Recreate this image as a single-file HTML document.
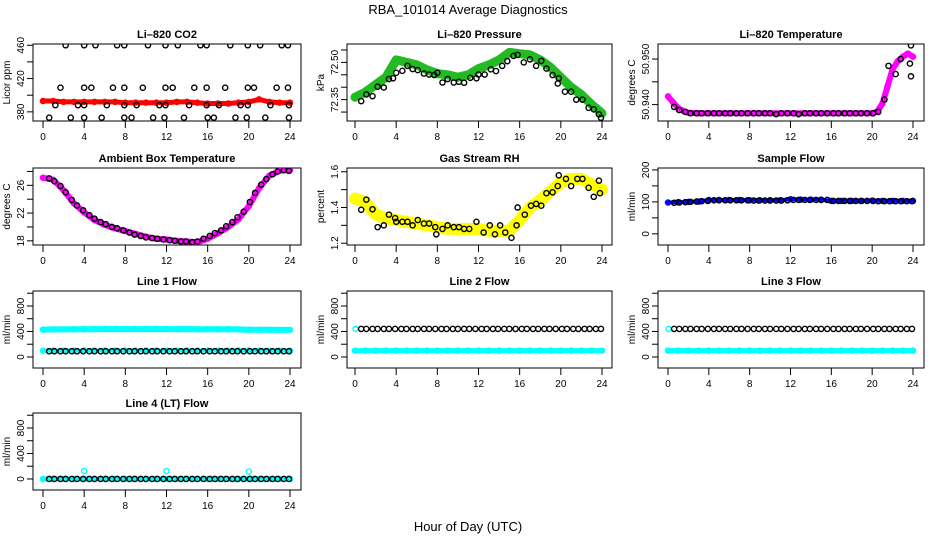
<!DOCTYPE html>
<html><head><meta charset="utf-8"><style>
html,body{margin:0;padding:0;background:#fff}
svg{display:block;font-family:"Liberation Sans",Arial,sans-serif}
</style></head><body>
<svg id="c" width="936" height="540" viewBox="0 0 936 540">
<text x="468" y="14" text-anchor="middle" font-size="13">RBA_101014  Average Diagnostics</text>
<text x="468" y="531" text-anchor="middle" font-size="13">Hour of Day (UTC)</text>
</svg>
<script>
// ---- data ----
const hoursBlack = [0.6,1.1,1.7,2.2,2.8,3.3,3.9,4.5,5.0,5.6,6.1,6.7,7.2,7.8,8.4,8.9,9.5,10.0,10.6,11.1,11.7,12.3,12.8,13.4,13.9,14.5,15.0,15.6,16.2,16.7,17.3,17.8,18.4,18.9,19.5,20.1,20.6,21.2,21.7,22.3,22.8,23.4,23.9];
const hoursHourly = [0,1,2,3,4,5,6,7,8,9,10,11,12,13,14,15,16,17,18,19,20,21,22,23,24];

const co2BlackH = [2.2,4.0,5.1,7.2,7.9,10.2,11.9,13.1,15.3,15.9,18.2,19.9,21.1,23.2,23.8, 1.7,4.0,4.7,6.8,7.9,9.7,11.9,12.6,14.7,15.9,17.7,19.9,20.5,22.7,23.8, 1.2,3.4,4.0,6.2,7.9,9.1,11.3,11.9,14.2,15.9,17.1,19.2,19.9,22.1,23.9, 0.6,2.7,4.0,5.7,7.9,8.6,10.7,11.8,13.7,16.0,16.6,18.7,19.8,21.6,23.9];
const co2BlackV = [460,460,460,460,460,460,460,460,460,460,460,460,460,460,460, 409,409,409,409,409,409,409,409,409,409,409,409,409,409,409, 388,388,388,388,388,388,388,388,388,388,388,388,388,388,388, 373,373,373,373,373,373,373,373,373,373,373,373,373,373,373];
const co2Red = [393,393,392,392,392,392,392,392,391,391,391,391,391,392,392,391,390,390,390,391,392,395,392,391,391];

const presBlackH = [0.6,1.1,1.7,2.2,2.8,3.3,3.7,4.0,4.6,5.1,5.6,6.1,6.7,7.2,7.7,8.0,8.5,9.0,9.6,10.1,10.6,11.2,11.8,12.0,12.6,13.2,13.7,14.3,14.8,15.4,15.8,16.4,17.0,17.6,18.1,18.6,19.2,19.7,19.8,20.4,21.0,21.5,22.1,22.7,23.2,23.7,23.9];
const presBlackV = [72.344,72.371,72.364,72.402,72.399,72.433,72.436,72.458,72.466,72.486,72.473,72.469,72.455,72.451,72.449,72.458,72.419,72.433,72.419,72.422,72.418,72.438,72.436,72.451,72.451,72.472,72.465,72.486,72.505,72.526,72.530,72.500,72.512,72.486,72.506,72.475,72.449,72.415,72.436,72.382,72.382,72.350,72.350,72.317,72.311,72.291,72.277];
const presGreen = [72.36,72.38,72.41,72.44,72.51,72.50,72.49,72.47,72.455,72.45,72.44,72.45,72.475,72.49,72.51,72.54,72.535,72.53,72.51,72.48,72.44,72.40,72.37,72.33,72.295];

const tempBlackH = [0.6,1.1,1.7,2.2,2.8,3.3,3.9,4.5,5.0,5.6,6.1,6.7,7.2,7.8,8.4,8.9,9.5,10.0,10.6,11.1,11.7,12.3,12.8,13.4,13.9,14.5,15.0,15.6,16.2,16.7,17.3,17.8,18.4,18.9,19.5,20.1,20.6,21.2,21.6,22.3,22.8,23.7,23.8,23.8];
const tempBlackV = [50.9395,50.9388,50.9384,50.9381,50.9381,50.9381,50.9381,50.9381,50.9381,50.9381,50.9381,50.9381,50.9381,50.9381,50.9381,50.9381,50.9381,50.9381,50.9379,50.9381,50.9381,50.9381,50.9379,50.9381,50.9381,50.9381,50.9381,50.9381,50.9381,50.9381,50.9381,50.9381,50.9381,50.9381,50.9381,50.9381,50.9384,50.9411,50.9485,50.9467,50.9500,50.9490,50.9530,50.9462];
const tempMagH = [0,0.5,1,1.5,2,3,6,10,14,18,20,20.5,21,21.5,22,22.5,23,23.5,24];
const tempMagV = [50.9418,50.9405,50.9392,50.9386,50.9382,50.9381,50.9381,50.9381,50.9381,50.9381,50.9381,50.9385,50.9402,50.9440,50.9478,50.9495,50.9505,50.9512,50.9505];

const ambBlackV = [27.0,26.6,25.9,25.0,23.9,23.1,22.4,21.7,21.2,20.7,20.4,20.0,19.8,19.5,19.2,18.9,18.7,18.5,18.4,18.3,18.2,18.1,18.0,17.9,17.9,17.8,17.9,18.3,18.7,19.1,19.5,20.1,20.7,21.4,22.2,23.6,24.9,26.1,26.9,27.6,28.0,28.2,28.1];
const ambMag = [27.1,26.8,25.3,23.4,22.1,21.0,20.3,19.8,19.4,19.0,18.6,18.3,18.2,18.0,17.9,17.8,18.3,19.1,20.0,21.1,23.0,25.6,27.4,28.1,28.2];

const rhBlackH = [0.6,1.1,1.7,2.2,2.8,3.3,3.9,4.0,4.6,5.1,5.6,6.1,6.7,7.2,7.8,7.9,8.5,9.0,9.6,10.1,10.6,11.1,11.8,12.5,13.1,13.6,14.1,14.6,15.2,15.7,15.8,16.5,17.1,17.6,18.1,18.6,19.2,19.7,19.8,20.5,21.0,21.6,22.1,22.7,23.2,23.7,23.8];
const rhBlackV = [1.387,1.444,1.39,1.29,1.30,1.36,1.34,1.32,1.32,1.32,1.30,1.33,1.31,1.31,1.29,1.25,1.28,1.30,1.29,1.29,1.28,1.28,1.32,1.26,1.30,1.25,1.30,1.26,1.23,1.30,1.40,1.36,1.41,1.42,1.41,1.48,1.485,1.52,1.58,1.56,1.52,1.56,1.56,1.51,1.46,1.55,1.48];
const rhYellow = [1.45,1.43,1.36,1.34,1.33,1.32,1.31,1.30,1.29,1.28,1.28,1.28,1.28,1.27,1.27,1.27,1.33,1.40,1.44,1.49,1.54,1.56,1.56,1.53,1.50];

const sampleBlackV = [97,98,99,100,101,102,103,105,105,105,105,105,105,105,104,104,104,104,104,104,105,106,106,106,106,106,106,106,103,103,103,103,103,103,103,103,102,102,102,102,102,102,102];
const sampleBlue = [98,99,100,101,106,106,106,106,105,105,105,105,108,107,107,107,103,103,103,103,104,103,103,103,103];

const l1CyanHigh = [430,432,433,434,436,437,438,438,438,438,438,438,438,437,437,436,436,435,434,432,428,427,426,425,425];
const l1CyanLow = [100,100,100,100,102,102,102,102,102,102,102,102,102,102,102,102,102,102,102,102,102,102,100,100,100];
const l1Black = 90;
const l2CyanLow = [100,100,100,100,100,100,100,100,100,100,100,100,100,100,100,100,100,100,100,100,100,100,100,100,100];
const l2Black = 440;
const l3CyanLow = [100,100,100,100,100,100,100,100,100,100,100,100,100,100,100,100,100,100,100,100,100,100,100,100,100];
const l3Black = 440;
const l4Cyan = [0,0,0,0,0,0,0,0,0,0,0,0,0,0,0,0,0,0,0,0,0,0,0,0,0];
const l4SpikeH = [4,12,20];
const l4SpikeV = [125,125,115];
const l4Black = 0;

const xTicks = [0,4,8,12,16,20,24];

// ---- layout ----
const NS = 'http://www.w3.org/2000/svg';
const svg = document.getElementById('c');
const cols = [{bl:33,br:301,t0:43,t24:290},{bl:347,br:612,t0:355,t24:602},{bl:658,br:924,t0:668,t24:913}];
const rows = [44,168,291,413];
const PH = 77;

function mk(tag, attrs, parent){const e=document.createElementNS(NS,tag);for(const k in attrs)e.setAttribute(k,attrs[k]);(parent||svg).appendChild(e);return e;}

function panel(col,row,title,ylabel,ylim,yticks,ylabs,name){
  const c=cols[col], top=rows[row], bot=top+PH;
  const g=mk('g',{});
  
  
  const sx=h=>c.t0+h/24*(c.t24-c.t0);
  const sy=v=>bot-(v-ylim[0])/(ylim[1]-ylim[0])*PH;
  const box=mk('rect',{x:c.bl,y:top,width:c.br-c.bl,height:PH,fill:'none',stroke:'#000','stroke-width':1},g);
  
  
  const t=mk('text',{x:(c.bl+c.br)/2,y:top-6,'text-anchor':'middle','font-size':11,'font-weight':'bold'},g);
  t.textContent=title;
  
  
  const yl=mk('text',{x:0,y:0,'text-anchor':'middle','font-size':10,transform:`translate(${c.bl-23},${top+PH/2}) rotate(-90)`},g);
  yl.textContent=ylabel;
  
  
  mk('line',{x1:sx(0),x2:sx(24),y1:bot,y2:bot,stroke:'#000'},g);
  xTicks.forEach(h=>{
    mk('line',{x1:sx(h),x2:sx(h),y1:bot,y2:bot+7,stroke:'#000'},g);
    const tl=mk('text',{x:sx(h),y:bot+19,'text-anchor':'middle','font-size':10},g);
    tl.textContent=h;
    
    
  });
  mk('line',{x1:c.bl,x2:c.bl,y1:sy(yticks[0]),y2:sy(yticks[yticks.length-1]),stroke:'#000'},g);
  yticks.forEach(v=>mk('line',{x1:c.bl-6,x2:c.bl,y1:sy(v),y2:sy(v),stroke:'#000'},g));
  ylabs.forEach(([v,s])=>{
    const tl=mk('text',{x:0,y:0,'text-anchor':'middle','font-size':10,transform:`translate(${c.bl-9},${sy(v)}) rotate(-90)`},g);
    tl.textContent=s;
    
    
  });
  const clipId='cl'+name;
  const cp=mk('clipPath',{id:clipId},g);
  mk('rect',{x:c.bl,y:top,width:c.br-c.bl,height:PH},cp);
  const pg=mk('g',{'clip-path':`url(#${clipId})`},g);
  return {sx,sy,g:pg};
}
function band(p,H,V,color,w,name){
  const pts=H.map((h,i)=>p.sx(h).toFixed(1)+','+p.sy(V[i]).toFixed(1)).join(' ');
  const pl=mk('polyline',{points:pts,fill:'none',stroke:color,'stroke-width':w,'stroke-linejoin':'round','stroke-linecap':'round'},p.g);
  
  
  H.forEach((h,i)=>{
    const ci=mk('circle',{cx:p.sx(h),cy:p.sy(V[i]),r:2.6,fill:'none',stroke:color,'stroke-width':1.3},p.g);
    
    
  });
}
function pts(p,H,V,color,name){
  H.forEach((h,i)=>{
    const ci=mk('circle',{cx:p.sx(h),cy:p.sy(V[i]),r:2.6,fill:'none',stroke:color,'stroke-width':1.4},p.g);
    
    
  });
}
const flowTicks=[0,200,400,600,800,1000], flowLabs=[[0,'0'],[400,'400'],[800,'800']], flowLim=[-173,1035];
const constArr=(v)=>hoursBlack.map(()=>v);

let p=panel(0,0,'Li\u2013820 CO2','Licor ppm',[369,461.5],[380,400,420,440,460],[[380,'380'],[420,'420'],[460,'460']],'co2');
band(p,hoursHourly,co2Red,'#ff0000',5,'co2-red-series');
pts(p,co2BlackH,co2BlackV,'#000','co2-black-point');

p=panel(1,0,'Li\u2013820 Pressure','kPa',[72.264,72.574],[72.30,72.35,72.40,72.45,72.50,72.55],[[72.50,'72.50'],[72.35,'72.35']],'pressure');
band(p,hoursHourly,presGreen,'#22bb22',9,'pressure-green-series');
pts(p,presBlackH,presBlackV,'#000','pressure-black-point');

p=panel(2,0,'Li\u2013820 Temperature','degrees C',[50.9364,50.9533],[50.940,50.945,50.950],[[50.940,'50.940'],[50.950,'50.950']],'li820-temp');
band(p,tempMagH,tempMagV,'#ff00ff',6,'temp-magenta-series');
pts(p,tempBlackH,tempBlackV,'#000','temp-black-point');

p=panel(0,1,'Ambient Box Temperature','degrees C',[17.4,28.5],[18,20,22,24,26,28],[[18,'18'],[22,'22'],[26,'26']],'ambient');
band(p,hoursHourly,ambMag,'#ff00ff',6,'ambient-magenta-series');
pts(p,hoursBlack,ambBlackV,'#000','ambient-black-point');

p=panel(1,1,'Gas Stream RH','percent',[1.19,1.621],[1.2,1.3,1.4,1.5,1.6],[[1.2,'1.2'],[1.4,'1.4'],[1.6,'1.6']],'rh');
band(p,hoursHourly,rhYellow,'#ffff00',12,'rh-yellow-series');
pts(p,rhBlackH,rhBlackV,'#000','rh-black-point');

p=panel(2,1,'Sample Flow','ml/min',[-35,206],[0,50,100,150,200],[[0,'0'],[100,'100'],[200,'200']],'sample-flow');
band(p,hoursHourly,sampleBlue,'#0000ff',4,'sample-blue-series');
pts(p,hoursBlack,sampleBlackV,'#000','sample-black-point');

p=panel(0,2,'Line 1 Flow','ml/min',flowLim,flowTicks,flowLabs,'line1');
band(p,hoursHourly,l1CyanHigh,'#00ffff',6,'line1-cyan-high');
band(p,hoursHourly,l1CyanLow,'#00ffff',4,'line1-cyan-low');
pts(p,hoursBlack,constArr(l1Black),'#000','line1-black-point');

p=panel(1,2,'Line 2 Flow','ml/min',flowLim,flowTicks,flowLabs,'line2');
band(p,hoursHourly,l2CyanLow,'#00ffff',5,'line2-cyan-low');
pts(p,[0.05],[440],'#00ffff','line2-cyan-point');
pts(p,hoursBlack,constArr(l2Black),'#000','line2-black-point');

p=panel(2,2,'Line 3 Flow','ml/min',flowLim,flowTicks,flowLabs,'line3');
band(p,hoursHourly,l3CyanLow,'#00ffff',5,'line3-cyan-low');
pts(p,[0.05],[440],'#00ffff','line3-cyan-point');
pts(p,hoursBlack,constArr(l3Black),'#000','line3-black-point');

p=panel(0,3,'Line 4 (LT) Flow','ml/min',flowLim,flowTicks,flowLabs,'line4');
band(p,hoursHourly,l4Cyan,'#00ffff',5,'line4-cyan-series');
pts(p,l4SpikeH,l4SpikeV,'#00ffff','line4-cyan-spike');
pts(p,hoursBlack,constArr(l4Black),'#000','line4-black-point');
</script>
</body></html>
